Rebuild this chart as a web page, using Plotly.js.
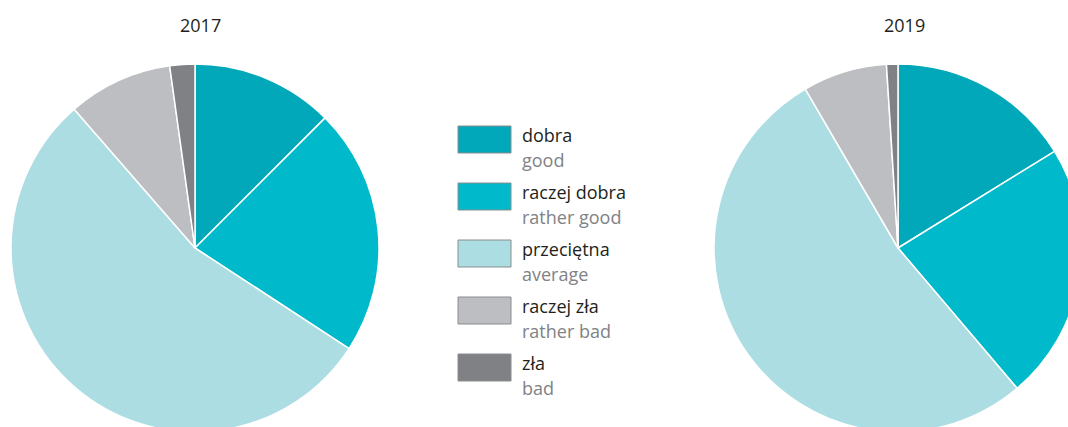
<!DOCTYPE html>
<html>
<head>
<meta charset="utf-8">
<script src="https://cdn.plot.ly/plotly-3.0.1.min.js"></script>
<style>
html,body{margin:0;padding:0;overflow:hidden;background:#fff;width:1068px;height:427px;}
#chart{width:1090px;height:440px;}
</style>
</head>
<body>
<div id="chart"></div>
<script>
var categoriesPL = ["dobra", "raczej dobra", "przeciętna", "raczej zła", "zła"];
var categoriesEN = ["good", "rather good", "average", "rather bad", "bad"];
var years = ["2017", "2019"];
var values2017 = [12.5, 21.7, 54.4, 9.2, 2.2];
var values2019 = [16.2, 22.6, 52.8, 7.4, 1.0];
var colors = ["#00a8b9", "#00bacb", "#acdde3", "#bcbec2", "#808184"];

var W = 1090, H = 440;
function px(x){ return x / W; }
function py(y){ return 1 - y / H; }

var R = 184;
var centers = [[195, 248], [898, 248]];
var series = [values2017, values2019];

var data = series.map(function(vals, i){
  var cx = centers[i][0], cy = centers[i][1];
  return {
    type: "pie",
    labels: categoriesPL,
    values: vals,
    sort: false,
    direction: "clockwise",
    rotation: 0,
    textinfo: "none",
    hoverinfo: "label+percent",
    showlegend: false,
    marker: {colors: colors, line: {color: "#ffffff", width: 1.5}},
    domain: {x: [px(cx - R), px(cx + R)], y: [py(cy + R), py(cy - R)]}
  };
});

var annotations = [];
var shapes = [];
var titleX = [200, 904];
years.forEach(function(y, i){
  annotations.push({
    text: y, xref: "paper", yref: "paper", x: px(titleX[i]), y: py(25),
    xanchor: "center", yanchor: "middle", showarrow: false,
    font: {family: "Open Sans, sans-serif", size: 18, color: "#231f20"}
  });
});

var boxTop = 126, step = 57;
categoriesPL.forEach(function(c, i){
  var top = boxTop + i * step;
  shapes.push({
    type: "rect", xref: "paper", yref: "paper",
    x0: px(458), x1: px(511), y0: py(top), y1: py(top + 27),
    fillcolor: colors[i], line: {color: "#8a8c8e", width: 1}
  });
  annotations.push({
    text: c, xref: "paper", yref: "paper", x: px(520), y: py(top + 9),
    xanchor: "left", yanchor: "middle", showarrow: false,
    font: {family: "Open Sans, sans-serif", size: 18, color: "#231f20"}
  });
  annotations.push({
    text: categoriesEN[i], xref: "paper", yref: "paper", x: px(520), y: py(top + 34),
    xanchor: "left", yanchor: "middle", showarrow: false,
    font: {family: "Open Sans, sans-serif", size: 18, color: "#808285"}
  });
});

var layout = {
  width: W, height: H,
  margin: {l: 0, r: 0, t: 0, b: 0},
  paper_bgcolor: "#ffffff",
  plot_bgcolor: "#ffffff",
  showlegend: false,
  annotations: annotations,
  shapes: shapes
};

Plotly.newPlot("chart", data, layout, {displayModeBar: false, staticPlot: true});
</script>
</body>
</html>
